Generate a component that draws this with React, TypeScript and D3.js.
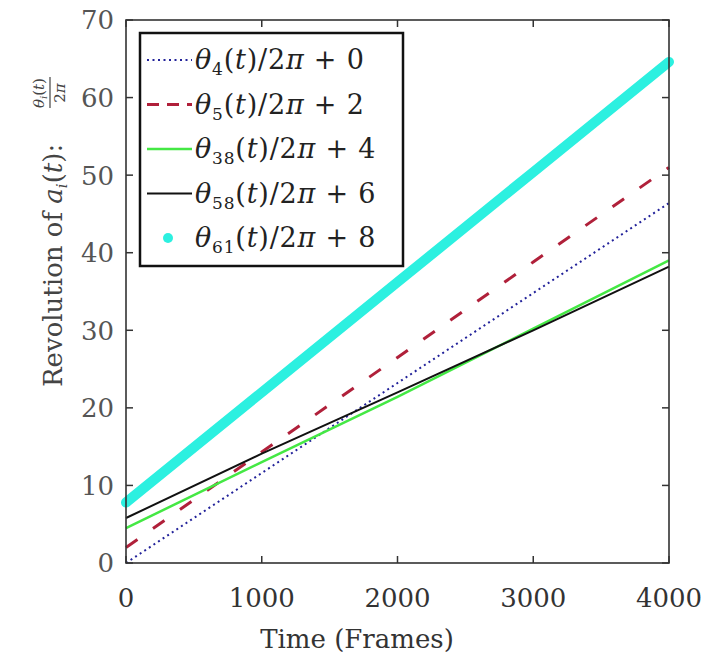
import * as d3 from "d3";
import React from "react";

// sampled time axis (frames)
const frames = [0, 1000, 2000, 3000, 4000];
const theta4 = [0, 11.6, 23.2, 34.8, 46.4];
const theta5 = [2, 14.3, 26.5, 38.8, 51];
const theta38 = [4.5, 13, 21.4, 30.2, 39];
const theta58 = [5.8, 14.1, 22, 30, 38.2];
const theta61 = [7.8, 22, 36.2, 50.4, 64.6];

const xTicks = [0, 1000, 2000, 3000, 4000];
const yTicks = [0, 10, 20, 30, 40, 50, 60, 70];

const seriesNames = ["4", "5", "38", "58", "61"];
const seriesOffsets = ["0", "2", "4", "6", "8"];

const W = 701;
const H = 659;
const margin = { left: 126, right: 32, top: 20, bottom: 96 };
const FONT = "'DejaVu Serif', serif";

const series = [
  { key: "4", values: theta4, color: "#22229a", width: 2, dash: "2,3.5", cap: "butt" },
  { key: "5", values: theta5, color: "#b0203a", width: 3, dash: "14,19", cap: "butt" },
  { key: "38", values: theta38, color: "#44e844", width: 2.5, dash: null, cap: "butt" },
  { key: "58", values: theta58, color: "#111111", width: 2, dash: null, cap: "butt" },
  { key: "61", values: theta61, color: "#2cf0e0", width: 10, dash: null, cap: "round" },
];

const LegendLabel = ({ idx, x, y }: { idx: number; x: number; y: number }) => (
  <text x={x} y={y} fontFamily={FONT} fontSize={27} letterSpacing={0.8} fill="#222">
    <tspan fontStyle="italic">θ</tspan>
    <tspan fontSize={17} dy={6}>{seriesNames[idx]}</tspan>
    <tspan dy={-6}>(</tspan>
    <tspan fontStyle="italic">t</tspan>
    <tspan>)/2</tspan>
    <tspan fontStyle="italic">π</tspan>
    <tspan>{" + "}{seriesOffsets[idx]}</tspan>
  </text>
);

const App = () => {
  const x = d3
    .scaleLinear()
    .domain([0, 4000])
    .range([margin.left, W - margin.right]);
  const y = d3
    .scaleLinear()
    .domain([0, 70])
    .range([H - margin.bottom, margin.top]);

  const line = d3
    .line<number>()
    .x((_, i) => x(frames[i]))
    .y((d) => y(d));

  const x0 = x.range()[0];
  const x1 = x.range()[1];
  const y0 = y.range()[0];
  const y1 = y.range()[1];
  const tickLen = 7;

  // legend placement
  const lg = { x: 140, y: 33, w: 263, h: 233 };
  const rowH = 44.5;

  return (
    <svg
      width={W}
      height={H}
      style={{ position: "absolute", left: 0, top: 0, background: "#fff" }}
    >
      <rect x={0} y={0} width={W} height={H} fill="#fff" />

      {/* series */}
      {series.map((s) => (
        <path
          key={s.key}
          d={line(s.values) || ""}
          fill="none"
          stroke={s.color}
          strokeWidth={s.width}
          strokeDasharray={s.dash || undefined}
          strokeLinecap={s.cap as any}
        />
      ))}

      {/* frame */}
      <rect
        x={x0}
        y={y1}
        width={x1 - x0}
        height={y0 - y1}
        fill="none"
        stroke="#333"
        strokeWidth={1.6}
      />

      {/* x ticks */}
      {xTicks.map((t) => (
        <g key={"x" + t}>
          <line x1={x(t)} x2={x(t)} y1={y0} y2={y0 - tickLen} stroke="#333" strokeWidth={1.5} />
          <line x1={x(t)} x2={x(t)} y1={y1} y2={y1 + tickLen} stroke="#333" strokeWidth={1.5} />
          <text
            x={x(t)}
            y={607}
            textAnchor="middle"
            fontFamily={FONT}
            fontSize={26}
            fill="#333"
          >
            {t}
          </text>
        </g>
      ))}

      {/* y ticks */}
      {yTicks.map((t) => (
        <g key={"y" + t}>
          <line x1={x0} x2={x0 + tickLen} y1={y(t)} y2={y(t)} stroke="#333" strokeWidth={1.5} />
          <line x1={x1} x2={x1 - tickLen} y1={y(t)} y2={y(t)} stroke="#333" strokeWidth={1.5} />
          <text
            x={114}
            y={y(t)}
            dy="0.36em"
            textAnchor="end"
            fontFamily={FONT}
            fontSize={26}
            fill="#555"
          >
            {t}
          </text>
        </g>
      ))}

      {/* axis titles */}
      <text x={357} y={648} textAnchor="middle" fontFamily={FONT} fontSize={26} fill="#333">
        Time (Frames)
      </text>

      <g transform="translate(62,387) rotate(-90)">
        <text x={0} y={0} fontFamily={FONT} fontSize={26} fill="#444">
          <tspan>Revolution of </tspan>
          <tspan fontStyle="italic">a</tspan>
          <tspan fontStyle="italic" fontSize={15} dy={5}>i</tspan>
          <tspan dy={-5}>(</tspan>
          <tspan fontStyle="italic">t</tspan>
          <tspan>):</tspan>
        </text>
        <text x={294} y={-18} textAnchor="middle" fontFamily={FONT} fontSize={15} fill="#444">
          <tspan fontStyle="italic">θ</tspan>
          <tspan fontStyle="italic" fontSize={10} dy={3}>i</tspan>
          <tspan dy={-3}>(</tspan>
          <tspan fontStyle="italic">t</tspan>
          <tspan>)</tspan>
        </text>
        <line x1={279} x2={310} y1={-12} y2={-12} stroke="#444" strokeWidth={1.2} />
        <text x={294} y={3} textAnchor="middle" fontFamily={FONT} fontSize={15} fill="#444">
          <tspan>2</tspan>
          <tspan fontStyle="italic">π</tspan>
        </text>
      </g>

      {/* legend */}
      <rect x={lg.x} y={lg.y} width={lg.w} height={lg.h} fill="#fff" stroke="#111" strokeWidth={2.5} />
      {series.map((s, i) => {
        const cy = lg.y + 27 + i * rowH;
        return (
          <g key={"lg" + s.key}>
            {s.key === "61" ? (
              <circle cx={lg.x + 28} cy={cy} r={5} fill={s.color} />
            ) : (
              <line
                x1={lg.x + 7}
                x2={lg.x + 52}
                y1={cy}
                y2={cy}
                stroke={s.color}
                strokeWidth={s.width}
                strokeDasharray={s.key === "5" ? "12,8" : s.dash || undefined}
              />
            )}
            <LegendLabel idx={i} x={lg.x + 55} y={cy + 9} />
          </g>
        );
      })}
    </svg>
  );
};

export default App;
